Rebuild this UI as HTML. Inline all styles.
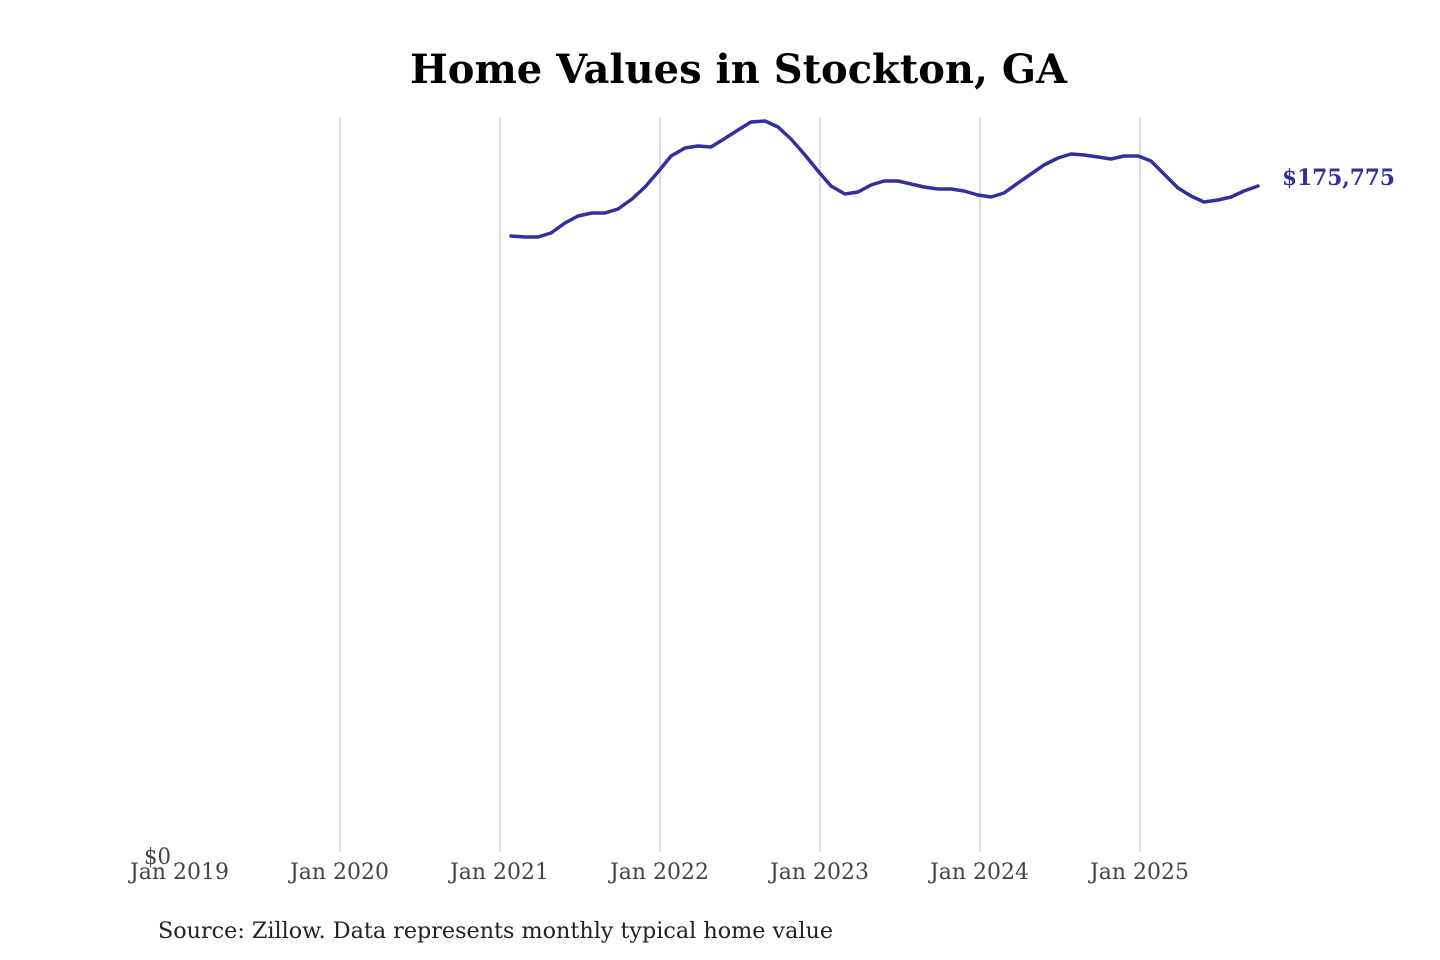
<!DOCTYPE html>
<html><head><meta charset="utf-8"><style>
html,body{margin:0;padding:0;background:#fff;}
svg{display:block;}
</style></head><body>
<svg width="1440" height="960" xmlns="http://www.w3.org/2000/svg">
<text x="410" y="83" textLength="657" lengthAdjust="spacingAndGlyphs" font-family="'DejaVu Serif', serif" font-weight="bold" font-size="40" fill="#000">Home Values in Stockton, GA</text>
<g stroke="#c8c8c8" stroke-width="1.2">
<line x1="340" y1="117" x2="340" y2="852"/>
<line x1="500" y1="117" x2="500" y2="852"/>
<line x1="660" y1="117" x2="660" y2="852"/>
<line x1="820" y1="117" x2="820" y2="852"/>
<line x1="980" y1="117" x2="980" y2="852"/>
<line x1="1140" y1="117" x2="1140" y2="852"/>
</g>
<polyline fill="none" stroke="#33309a" stroke-width="3.5" stroke-linejoin="round" stroke-linecap="round" points="511,236 525,237 538,237 551,233 565,223 578,216 592,213 605,213 618,209 632,199 645,187 658,172 671,156 685,148 698,146 711,147 724,139 738,130 751,122 765,121 778,127 791,139 805,155 818,171 831,186 845,194 858,192 871,185 884,181 898,181 911,184 924,187 938,189 951,189 964,191 978,195 991,197 1004,193 1018,183 1031,174 1044,165 1058,158 1071,154 1084,155 1098,157 1111,159 1124,156 1138,156 1151,161 1164,174 1178,188 1191,196 1204,202 1218,200 1231,197 1244,191 1258,186"/>
<text x="1282" y="185" textLength="113" lengthAdjust="spacingAndGlyphs" font-family="'DejaVu Serif', serif" font-weight="bold" font-size="22" fill="#33309a">$175,775</text>
<g font-family="'DejaVu Serif', serif" font-size="22" fill="#444">
<text x="144" y="864" textLength="27" lengthAdjust="spacingAndGlyphs">$0</text>
<text x="130" y="879" textLength="99" lengthAdjust="spacingAndGlyphs">Jan 2019</text>
<text x="290" y="879" textLength="99" lengthAdjust="spacingAndGlyphs">Jan 2020</text>
<text x="450" y="879" textLength="99" lengthAdjust="spacingAndGlyphs">Jan 2021</text>
<text x="610" y="879" textLength="99" lengthAdjust="spacingAndGlyphs">Jan 2022</text>
<text x="770" y="879" textLength="99" lengthAdjust="spacingAndGlyphs">Jan 2023</text>
<text x="930" y="879" textLength="99" lengthAdjust="spacingAndGlyphs">Jan 2024</text>
<text x="1090" y="879" textLength="99" lengthAdjust="spacingAndGlyphs">Jan 2025</text>
</g>
<text x="158" y="938" textLength="675" lengthAdjust="spacingAndGlyphs" font-family="'DejaVu Serif', serif" font-size="22" fill="#222">Source: Zillow. Data represents monthly typical home value</text>
</svg>
</body></html>
